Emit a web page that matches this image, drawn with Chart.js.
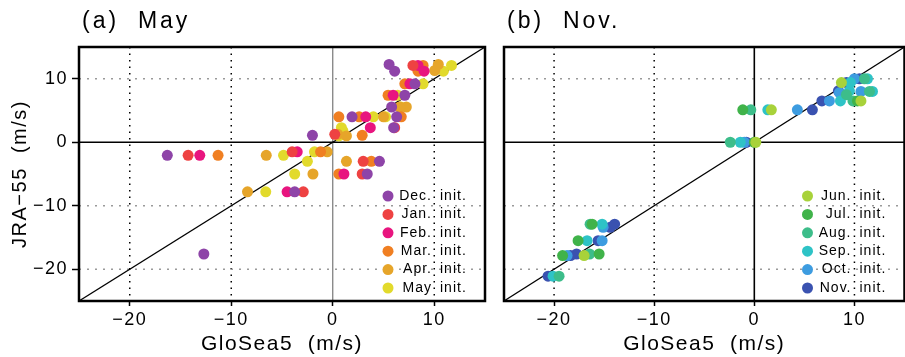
<!DOCTYPE html>
<html lang="en">
<head>
<meta charset="UTF-8">
<title>GloSea5 vs JRA-55</title>
<script src="https://cdn.jsdelivr.net/npm/chart.js"></script>
<style>
  body { margin: 0; width: 905px; height: 357px; overflow: hidden; background: #fff; position: relative; }
  canvas { position: absolute; top: 0; }
  #chartA { left: 0; }
  #chartB { left: 495px; }
</style>
</head>
<body>
<canvas id="chartA" width="495" height="357"></canvas>
<canvas id="chartB" width="415" height="357"></canvas>
<script>
// axis range and ticks, same for both panels
const axisMin = -25, axisMax = 15;
const tickValues = [-20, -10, 0, 10];

// (a) May target, points are [GloSea5, JRA-55] in m/s
const mayDec = [[5.55, 12.25], [6.1, 11.2], [8.1, 9.2], [7.1, 7.4], [5.8, 5.55], [1.9, 4.0], [6.3, 4.0], [6.0, 2.3],
  [-2.0, 1.1], [-16.3, -2.05], [4.6, -3.0], [3.4, -5.0], [-3.75, -7.8], [-12.7, -17.6]];
const mayJan = [[7.9, 12.1], [6.1, 2.3], [0.2, 1.25], [-14.25, -2.05], [-4.0, -1.5], [3.0, -3.0], [2.9, -5.0], [-2.9, -7.8]];
const mayFeb = [[8.4, 12.1], [9.0, 11.2], [7.6, 9.2], [5.95, 7.4], [3.25, 4.0], [3.7, 2.3], [-13.1, -2.05], [-3.5, -1.5],
  [1.1, -5.0], [-4.5, -7.8]];
const mayMar = [[8.9, 12.1], [8.4, 11.2], [7.1, 9.2], [5.45, 7.4], [0.6, 4.0], [2.6, 4.0], [6.75, 4.0], [2.9, 1.1],
  [-11.3, -2.05], [-1.2, -1.5], [3.8, -3.0], [0.6, -5.0]];
const mayApr = [[10.4, 12.25], [10.05, 11.3], [7.25, 5.55], [6.6, 5.55], [5.0, 4.0], [0.5, 1.25], [1.35, 1.0],
  [-6.55, -2.05], [-0.55, -1.5], [1.35, -3.0], [-1.95, -5.0], [-8.4, -7.8]];
const mayMay = [[11.7, 12.1], [10.9, 11.2], [8.9, 9.2], [6.4, 7.4], [6.7, 5.55], [4.0, 4.0], [5.2, 4.0], [0.85, 2.3],
  [1.0, 1.8], [0.6, 1.0], [-4.85, -2.05], [-1.8, -1.5], [-2.5, -3.0], [-3.75, -5.0], [-6.6, -7.8]];

// (b) Nov. target
const novJun = [[8.7, 9.4], [10.65, 6.5], [1.7, 5.1], [0.15, 0], [-17.0, -17.85]];
const novJul = [[10.3, 6.5], [-1.15, 5.1], [0, 0], [-16.2, -12.9], [-17.6, -15.5], [-19.15, -17.85], [-15.5, -17.6]];
const novAug = [[11.0, 10.0], [11.5, 8.0], [9.85, 6.5], [9.2, 7.5], [-0.35, 5.1], [-2.4, 0], [-16.4, -12.9],
  [-16.45, -17.6], [-19.5, -21.1]];
const novSep = [[11.3, 10.0], [11.8, 8.0], [9.5, 8.1], [9.6, 9.4], [8.6, 6.5], [1.35, 5.1], [-1.4, 0], [-15.2, -12.9],
  [-16.7, -15.5], [-20.1, -21.1]];
const novOct = [[10.0, 10.0], [10.65, 8.0], [8.5, 7.8], [7.5, 6.5], [4.3, 5.1], [-1.0, 0], [-15.1, -13.4],
  [-15.2, -15.5], [-18.7, -17.85]];
const novNov = [[9.2, 9.4], [10.5, 10.0], [8.4, 8.1], [6.75, 6.5], [5.8, 5.1], [-0.8, 0], [-14.4, -13.4],
  [-13.95, -12.9], [-15.6, -15.5], [-18.35, -17.85], [-17.75, -17.6], [-20.6, -21.1]];

const mayMonths = ['Dec.', 'Jan.', 'Feb.', 'Mar.', 'Apr.', 'May'];
const mayColors = ['#8e44a8', '#ee4242', '#e8157f', '#f07f22', '#e6a52a', '#e2da2c'];
const mayData = [mayDec, mayJan, mayFeb, mayMar, mayApr, mayMay];

const novMonths = ['Jun.', 'Jul.', 'Aug.', 'Sep.', 'Oct.', 'Nov.'];
const novColors = ['#a8d23a', '#40b34a', '#3dbd8a', '#2ec3c6', '#3d9ce0', '#3a52b0'];
const novData = [novJun, novJul, novAug, novSep, novOct, novNov];

Chart.defaults.font.family = "'Liberation Sans', Arial, sans-serif";
Chart.defaults.color = '#000';

// wider letters, closer to the original plot font
Chart.register({
  id: 'spacing',
  beforeLayout(chart) { chart.ctx.letterSpacing = '1.5px'; },
  beforeDraw(chart) { chart.ctx.letterSpacing = '1.5px'; }
});

// grid, 1:1 line, frame, title and legend
const panelPlugin = {
  id: 'panel',
  beforeDatasetsDraw(chart, args, opts) {
    const {ctx, chartArea: a, scales: {x, y}} = chart;
    ctx.save();
    ctx.lineWidth = 1.5;
    // vertical dotted
    ctx.strokeStyle = '#000';
    ctx.setLineDash([1.5, 5]);
    tickValues.filter(v => v !== 0).forEach(v => {
      const px = x.getPixelForValue(v);
      ctx.beginPath(); ctx.moveTo(px, a.top); ctx.lineTo(px, a.bottom); ctx.stroke();
    });
    // horizontal dotted
    ctx.strokeStyle = '#9a9a9a';
    ctx.setLineDash([2, 6]);
    tickValues.filter(v => v !== 0).forEach(v => {
      const py = y.getPixelForValue(v);
      ctx.beginPath(); ctx.moveTo(a.left, py); ctx.lineTo(a.right, py); ctx.stroke();
    });
    ctx.setLineDash([]);
    // zero lines
    const x0 = x.getPixelForValue(0), y0 = y.getPixelForValue(0);
    ctx.strokeStyle = opts.zeroX;
    ctx.lineWidth = opts.zeroXWidth;
    ctx.beginPath(); ctx.moveTo(x0, a.top); ctx.lineTo(x0, a.bottom); ctx.stroke();
    ctx.strokeStyle = '#000';
    ctx.lineWidth = 1.6;
    ctx.beginPath(); ctx.moveTo(a.left, y0); ctx.lineTo(a.right, y0); ctx.stroke();
    // 1:1 line
    ctx.lineWidth = 1.4;
    ctx.beginPath();
    ctx.moveTo(x.getPixelForValue(axisMin), y.getPixelForValue(axisMin));
    ctx.lineTo(x.getPixelForValue(axisMax), y.getPixelForValue(axisMax));
    ctx.stroke();
    ctx.restore();
  },
  afterDatasetsDraw(chart, args, opts) {
    const {ctx, chartArea: a} = chart;
    ctx.save();
    ctx.strokeStyle = '#000';
    ctx.lineWidth = 2.5;
    ctx.strokeRect(a.left, a.top, a.right - a.left, a.bottom - a.top);

    // legend, bottom right inside the frame
    ctx.font = "14px 'Liberation Sans', Arial, sans-serif";
    ctx.letterSpacing = '1px';
    ctx.textBaseline = 'middle';
    ctx.fillStyle = '#000';
    const n = chart.data.datasets.length;
    chart.data.datasets.forEach((ds, i) => {
      const yy = a.bottom - 13 - (n - 1 - i) * 18.4;
      ctx.fillStyle = ds.backgroundColor;
      ctx.beginPath(); ctx.arc(a.right - 97, yy, 5.5, 0, Math.PI * 2); ctx.fill();
      ctx.fillStyle = '#000';
      ctx.textAlign = 'right';
      ctx.fillText(ds.label, a.right - 53, yy);
      ctx.textAlign = 'left';
      ctx.fillText('init.', a.right - 45, yy);
    });

    // panel title
    ctx.font = "23px 'Liberation Sans', Arial, sans-serif";
    ctx.letterSpacing = '3px';
    ctx.textAlign = 'left';
    ctx.textBaseline = 'alphabetic';
    ctx.fillText(opts.title, a.left + 3, 28);
    ctx.restore();
  }
};

function tickLabel(v) {
  return v < 0 ? '\u2212' + Math.abs(v) : String(v);
}

function makePanel(id, months, colors, data, panel) {
  const datasets = months.map((m, i) => ({
    label: m,
    data: data[i].map(p => ({x: p[0], y: p[1]})),
    backgroundColor: colors[i],
    borderWidth: 0,
    pointRadius: 5.5,
    pointHoverRadius: 5.5
  }));
  const fixTicks = s => { s.ticks = tickValues.map(v => ({value: v})); };
  return new Chart(document.getElementById(id), {
    type: 'scatter',
    data: {datasets},
    options: {
      responsive: false,
      animation: false,
      layout: {padding: {top: 47, right: panel.padRight, left: 0, bottom: 0}},
      plugins: {legend: {display: false}, tooltip: {enabled: false}, panel},
      scales: {
        x: {
          min: axisMin, max: axisMax,
          afterBuildTicks: fixTicks,
          afterFit: s => { s.height = 56; },
          border: {display: false},
          grid: {drawOnChartArea: false, color: '#000', tickLength: 5, tickWidth: 1.5},
          ticks: {font: {size: 18}, padding: 3, callback: tickLabel, maxRotation: 0},
          title: {display: true, text: 'GloSea5  (m/s)', font: {size: 21}, padding: {top: 0, bottom: 0}}
        },
        y: {
          min: axisMin, max: axisMax,
          afterBuildTicks: fixTicks,
          afterFit: s => { s.width = panel.yWidth; },
          border: {display: false},
          grid: {display: panel.yTicks, drawOnChartArea: false, color: '#000', tickLength: 7, tickWidth: 1.5},
          ticks: {display: panel.yTicks, font: {size: 18}, padding: 4, callback: tickLabel},
          title: {display: panel.yTicks, text: 'JRA\u221255  (m/s)', font: {size: 20}, padding: {top: 8, bottom: 0}}
        }
      }
    },
    plugins: [panelPlugin]
  });
}

makePanel('chartA', mayMonths, mayColors, mayData,
  {title: '(a)  May', zeroX: '#777', zeroXWidth: 1.2, padRight: 10, yWidth: 79, yTicks: true});
makePanel('chartB', novMonths, novColors, novData,
  {title: '(b)  Nov.', zeroX: '#000', zeroXWidth: 1.6, padRight: 0, yWidth: 9, yTicks: false});
</script>
</body>
</html>
